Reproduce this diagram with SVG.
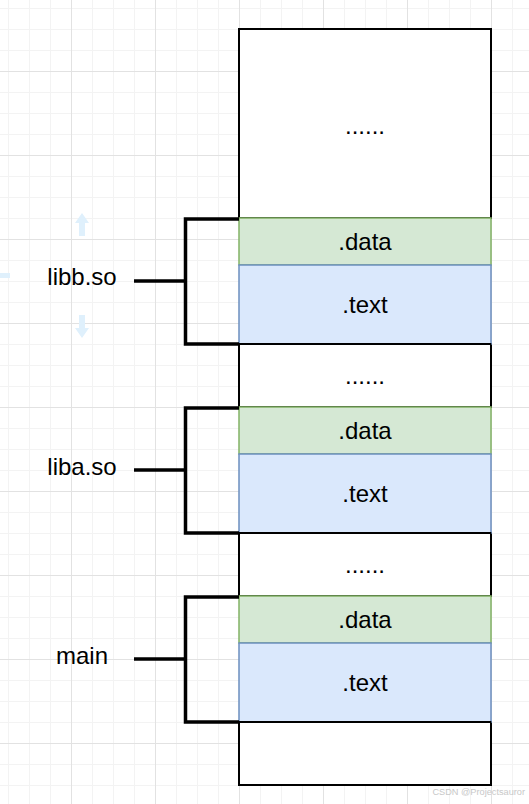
<svg xmlns="http://www.w3.org/2000/svg" width="529" height="804" viewBox="0 0 529 804">
<style>
.blk{fill:#ffffff;stroke:#000000;stroke-width:2}
.dat{fill:#d5e8d4;stroke:#82b366;stroke-width:1.5}
.txt{fill:#dae8fc;stroke:#6c8ebf;stroke-width:1.5}
.t{font-family:"Liberation Sans",Arial,sans-serif;font-size:24px;fill:#000000;text-anchor:middle}
.br{fill:none;stroke:#000000;stroke-width:3.5}
.hd{fill:#dff0fc}
</style>
<defs>
<pattern id="grid" x="71" y="71" width="84" height="84" patternUnits="userSpaceOnUse">
<path d="M21.5 0V84M42.5 0V84M63.5 0V84M0 21.5H84M0 42.5H84M0 63.5H84" stroke="#f3f3f3" stroke-width="1" fill="none"/>
<path d="M0.5 0V84M0 0.5H84" stroke="#e2e2e2" stroke-width="1" fill="none"/>
</pattern>
</defs>
<rect width="529" height="804" fill="#ffffff"/>
<rect width="529" height="804" fill="url(#grid)"/>
<g id="handles">
<path class="hd" d="M82 213L89 223H85V236H79V223H75Z"/>
<path class="hd" d="M82 338L89 328H85V315H79V328H75Z"/>
<rect class="hd" x="0" y="273" width="10" height="5"/>
</g>
<g id="top-block"><rect class="blk" x="239" y="29" width="252" height="189"/><text class="t" x="365" y="134">......</text></g>
<g id="dots-1"><rect class="blk" x="239" y="344" width="252" height="63"/><text class="t" x="365" y="384">......</text></g>
<g id="dots-2"><rect class="blk" x="239" y="533" width="252" height="63"/><text class="t" x="365" y="573">......</text></g>
<g id="bottom-block"><rect class="blk" x="239" y="722" width="252" height="63"/></g>
<g id="libb-data"><rect class="dat" x="239" y="218" width="252" height="47"/><text class="t" x="365" y="250">.data</text></g>
<g id="libb-text"><rect class="txt" x="239" y="265" width="252" height="79"/><text class="t" x="365" y="313">.text</text></g>
<g id="liba-data"><rect class="dat" x="239" y="407" width="252" height="47"/><text class="t" x="365" y="439">.data</text></g>
<g id="liba-text"><rect class="txt" x="239" y="454" width="252" height="79"/><text class="t" x="365" y="502">.text</text></g>
<g id="main-data"><rect class="dat" x="239" y="596" width="252" height="47"/><text class="t" x="365" y="628">.data</text></g>
<g id="main-text"><rect class="txt" x="239" y="643" width="252" height="79"/><text class="t" x="365" y="691">.text</text></g>
<g id="boundaries">
<path d="M239 344H491M239 533H491M239 722H491" stroke="#000" stroke-width="2" fill="none"/>
</g>
<g id="label-libb"><text class="t" x="82" y="285">libb.so</text></g>
<g id="label-liba"><text class="t" x="82" y="475">liba.so</text></g>
<g id="label-main"><text class="t" x="82" y="664">main</text></g>
<g id="connectors">
<path class="br" d="M239 219H185.5V344H239"/>
<path class="br" d="M134 281H185.5"/>
<path class="br" d="M239 408H185.5V533H239"/>
<path class="br" d="M134 470H185.5"/>
<path class="br" d="M239 597H185.5V722H239"/>
<path class="br" d="M134 659H185.5"/>
</g>
<text x="525" y="795" font-family="'Liberation Sans',Arial,sans-serif" font-size="9.2" fill="#c8c8c8" text-anchor="end">CSDN @Projectsauror</text>
</svg>
